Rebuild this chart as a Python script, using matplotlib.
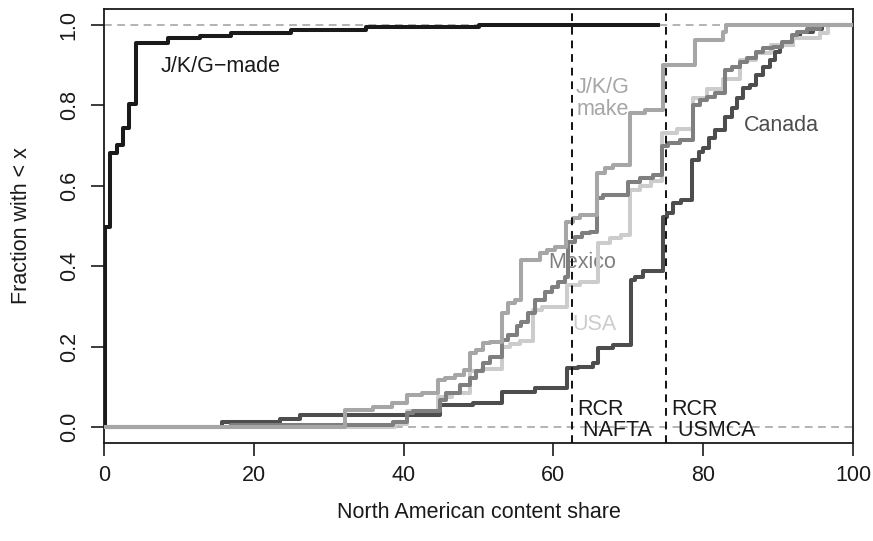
import matplotlib
matplotlib.use("Agg")
import matplotlib.pyplot as plt

plt.rcParams['font.family'] = ['Liberation Sans', 'DejaVu Sans']

# step positions (content share) and cumulative fraction after each step
jkg_made_x = [0, 0.2, 0.8, 1.7, 2.5, 3.4, 4.3, 8.6, 12.8, 17.0, 25.0, 35.0, 50.0, 74.0]
jkg_made_y = [0, 0.497, 0.681, 0.702, 0.743, 0.804, 0.956, 0.967, 0.972, 0.981, 0.988, 0.994, 1.0, 1.0]

canada_x = [0, 15.7, 23.5, 26.2, 44.9, 49.3, 53.2, 57.5, 61.8, 63.3, 65.3, 66.0, 68.0, 70.4, 70.9,
            72.0, 74.6, 75.2, 76.0, 77.1, 78.5, 79.5, 80.0, 80.8, 81.6, 82.9, 83.8, 84.5, 85.3,
            86.2, 87.1, 88.0, 88.9, 89.6, 90.3, 92.0, 92.9, 94.7, 95.8, 100]
canada_y = [0, 0.013, 0.02, 0.03, 0.055, 0.06, 0.088, 0.097, 0.147, 0.15, 0.159, 0.196, 0.204, 0.366,
            0.374, 0.389, 0.523, 0.532, 0.557, 0.565, 0.664, 0.685, 0.693, 0.72, 0.739, 0.772,
            0.793, 0.818, 0.843, 0.851, 0.876, 0.896, 0.913, 0.933, 0.95, 0.967, 0.983, 0.99, 1.0, 1.0]

mexico_x = [0, 17.0, 38.6, 40.4, 41.3, 44.9, 45.7, 47.5, 48.9, 49.7, 50.6, 51.5, 53.1, 53.9, 55.1,
            55.7, 56.6, 57.5, 58.9, 59.8, 60.6, 61.5, 62.0, 62.9, 63.8, 64.9, 65.8, 66.6, 70.0,
            71.6, 73.3, 74.5, 75.3, 76.9, 78.6, 79.6, 80.5, 81.6, 82.9, 83.8, 84.9, 85.8, 87.1,
            88.0, 89.3, 90.5, 91.8, 92.5, 93.8, 95.6, 100]
mexico_y = [0, 0.005, 0.013, 0.035, 0.04, 0.067, 0.084, 0.104, 0.121, 0.138, 0.16, 0.175, 0.216,
            0.229, 0.25, 0.262, 0.283, 0.316, 0.337, 0.349, 0.361, 0.374, 0.461, 0.473, 0.482,
            0.486, 0.569, 0.577, 0.61, 0.619, 0.627, 0.70, 0.706, 0.714, 0.80, 0.813, 0.82, 0.83,
            0.888, 0.896, 0.909, 0.917, 0.933, 0.942, 0.946, 0.959, 0.975, 0.983, 0.99, 1.0, 1.0]

usa_x = [0, 38.8, 40.4, 44.6, 46.5, 48.9, 50.5, 53.1, 54.2, 55.5, 57.3, 58.5, 61.8, 63.5, 66.0,
         67.5, 69.0, 70.2, 71.5, 73.0, 74.5, 76.5, 78.6, 80.5, 82.6, 84.9, 87.1, 89.1, 92.0,
         95.6, 96.7, 100]
usa_y = [0, 0.008, 0.04, 0.075, 0.085, 0.138, 0.145, 0.2, 0.207, 0.213, 0.29, 0.298, 0.354, 0.36,
         0.457, 0.47, 0.478, 0.59, 0.60, 0.612, 0.731, 0.742, 0.818, 0.842, 0.867, 0.913, 0.93,
         0.95, 0.967, 0.98, 1.0, 1.0]

jkg_make_x = [0, 32.2, 35.9, 38.4, 40.4, 42.5, 44.6, 45.5, 46.9, 48.0, 48.9, 49.7, 50.6, 51.5,
              53.1, 53.9, 54.9, 55.7, 58.2, 59.1, 60.2, 61.7, 62.6, 63.6, 65.8, 66.9, 68.0, 70.2,
              72.2, 74.6, 78.9, 82.6, 83.1, 100]
jkg_make_y = [0, 0.042, 0.05, 0.06, 0.08, 0.085, 0.117, 0.121, 0.129, 0.142, 0.184, 0.191, 0.208,
              0.212, 0.283, 0.308, 0.316, 0.415, 0.432, 0.44, 0.447, 0.511, 0.52, 0.527, 0.632,
              0.644, 0.652, 0.781, 0.789, 0.90, 0.963, 0.983, 1.0, 1.0]

rcr_lines = [62.5, 75]

fig = plt.figure(figsize=(8.73, 5.41), dpi=100)
ax = fig.add_axes([104 / 873, 98 / 541, 749 / 873, 434 / 541])

ax.axhline(0, color="#b3b3b3", lw=1.4, dashes=(4, 2.8), zorder=1)
ax.axhline(1, color="#b3b3b3", lw=1.4, dashes=(4, 2.8), zorder=1)

lw = 2.9
ax.step(jkg_made_x, jkg_made_y, where="post", color="#1a1a1a", lw=lw, zorder=2)
ax.step(canada_x, canada_y, where="post", color="#4d4d4d", lw=lw, zorder=2)
ax.step(usa_x, usa_y, where="post", color="#cccccc", lw=lw, zorder=2)
ax.step(mexico_x, mexico_y, where="post", color="#7f7f7f", lw=lw, zorder=3)
ax.step(jkg_make_x, jkg_make_y, where="post", color="#a6a6a6", lw=lw, zorder=3)

for xv in rcr_lines:
    ax.axvline(xv, color="#111111", lw=1.4, dashes=(4, 3), zorder=4)

fs = 15.5
tz = 1.5
ax.text(7.5, 0.898, "J/K/G\u2212made", color="#1a1a1a", fontsize=fs, va="center", ha="left", zorder=tz)
ax.text(66.6, 0.818, "J/K/G\nmake", color="#a6a6a6", fontsize=fs, va="center", ha="center",
        linespacing=1.05, zorder=tz)
ax.text(90.5, 0.751, "Canada", color="#4d4d4d", fontsize=fs, va="center", ha="center", zorder=tz)
ax.text(63.9, 0.408, "Mexico", color="#7f7f7f", fontsize=fs, va="center", ha="center", zorder=tz)
ax.text(65.5, 0.256, "USA", color="#cccccc", fontsize=fs, va="center", ha="center", zorder=tz)
ax.text(63.2, 0.016, "RCR\n NAFTA", color="#1a1a1a", fontsize=fs, va="center", ha="left",
        linespacing=1.0, zorder=tz)
ax.text(75.8, 0.016, "RCR\n USMCA", color="#1a1a1a", fontsize=fs, va="center", ha="left",
        linespacing=1.0, zorder=tz)

ax.set_xlim(0, 100)
ax.set_ylim(-0.04, 1.04)
ax.set_xticks([0, 20, 40, 60, 80, 100])
ax.set_yticks([0, 0.2, 0.4, 0.6, 0.8, 1.0])
ax.set_yticklabels(["0.0", "0.2", "0.4", "0.6", "0.8", "1.0"], rotation=90, va="center")
ax.tick_params(direction="out", length=9.5, width=1.2, labelsize=fs, colors="#1a1a1a")
ax.tick_params(axis="x", pad=6)
ax.tick_params(axis="y", pad=8)
for sp in ax.spines.values():
    sp.set_linewidth(1.3)
    sp.set_color("#1a1a1a")

ax.set_xlabel("North American content share", fontsize=fs, color="#1a1a1a", labelpad=12)
ax.set_ylabel("Fraction with < x", fontsize=fs, color="#1a1a1a", labelpad=19)

fig.savefig("out.png", dpi=100)
